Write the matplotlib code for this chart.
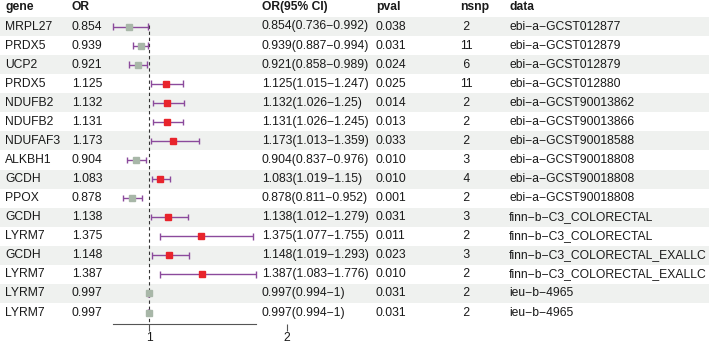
import matplotlib
matplotlib.use("Agg")
import matplotlib.pyplot as plt

genes = ["MRPL27", "PRDX5", "UCP2", "PRDX5", "NDUFB2", "NDUFB2", "NDUFAF3", "ALKBH1",
         "GCDH", "PPOX", "GCDH", "LYRM7", "GCDH", "LYRM7", "LYRM7", "LYRM7"]
or_vals = [0.854, 0.939, 0.921, 1.125, 1.132, 1.131, 1.173, 0.904,
           1.083, 0.878, 1.138, 1.375, 1.148, 1.387, 0.997, 0.997]
lower = [0.736, 0.887, 0.858, 1.015, 1.026, 1.026, 1.013, 0.837,
         1.019, 0.811, 1.012, 1.077, 1.019, 1.083, 0.994, 0.994]
upper = [0.992, 0.994, 0.989, 1.247, 1.25, 1.245, 1.359, 0.976,
         1.15, 0.952, 1.279, 1.755, 1.293, 1.776, 1, 1]
ci_text = ["0.854(0.736-0.992)", "0.939(0.887-0.994)", "0.921(0.858-0.989)",
           "1.125(1.015-1.247)", "1.132(1.026-1.25)", "1.131(1.026-1.245)",
           "1.173(1.013-1.359)", "0.904(0.837-0.976)", "1.083(1.019-1.15)",
           "0.878(0.811-0.952)", "1.138(1.012-1.279)", "1.375(1.077-1.755)",
           "1.148(1.019-1.293)", "1.387(1.083-1.776)", "0.997(0.994-1)", "0.997(0.994-1)"]
pvals = ["0.038", "0.031", "0.024", "0.025", "0.014", "0.013", "0.033", "0.010",
         "0.010", "0.001", "0.031", "0.011", "0.023", "0.010", "0.031", "0.031"]
nsnp = [2, 11, 6, 11, 2, 2, 2, 3, 4, 2, 3, 2, 3, 2, 2, 2]
data_src = ["ebi-a-GCST012877", "ebi-a-GCST012879", "ebi-a-GCST012879", "ebi-a-GCST012880",
            "ebi-a-GCST90013862", "ebi-a-GCST90013866", "ebi-a-GCST90018588", "ebi-a-GCST90018808",
            "ebi-a-GCST90018808", "ebi-a-GCST90018808", "finn-b-C3_COLORECTAL", "finn-b-C3_COLORECTAL",
            "finn-b-C3_COLORECTAL_EXALLC", "finn-b-C3_COLORECTAL_EXALLC", "ieu-b-4965", "ieu-b-4965"]
headers = ["gene", "OR", "OR(95% CI)", "pval", "nsnp", "data"]
xticks = [1, 2]

plt.rcParams['font.family'] = ['Liberation Sans', 'DejaVu Sans']
W, H = 709, 345
fig = plt.figure(figsize=(W / 100, H / 100), dpi=100)

n = len(genes)
y0, dy = 26.5, 19.07
top_row = -y0 / dy
bot_row = (H - y0) / dy

ax0 = fig.add_axes([0, 0, 1, 1])
ax0.set_xlim(0, W)
ax0.set_ylim(bot_row, top_row)
ax0.axis("off")

shade = "#EFF1EF"
for i in range(n):
    if i % 2 == 0:
        ax0.axhspan(i - 0.5, i + 0.5, color=shade, lw=0, zorder=0)

txt_col = "#1a1a1a"
fs = 8.7
col_x = [5, 72, 262, 376, 460, 509]
for hx, h in zip(col_x, headers):
    ax0.text(hx, -1, h, fontsize=fs, fontweight="bold", va="center", ha="left", color=txt_col)
for i in range(n):
    vals = [genes[i], f"{or_vals[i]:.3f}", ci_text[i].replace("-", "\u2212"), pvals[i],
            f"{nsnp[i]:>2d}" if nsnp[i] < 10 else str(nsnp[i]),
            data_src[i].replace("-", "\u2212")]
    for cx, v in zip(col_x, vals):
        ax0.text(cx, i, v, fontsize=fs, va="center", ha="left", color=txt_col)

# forest axes
px_left, px_right = 100, 300
px1, px_per_unit = 149, 138
axis_px = 324
axf = fig.add_axes([px_left / W, (H - axis_px) / H, (px_right - px_left) / W, axis_px / H])
axf.set_xlim(1 - (px1 - px_left) / px_per_unit, 1 + (px_right - px1) / px_per_unit)
axis_row = (axis_px - y0) / dy
axf.set_ylim(axis_row, top_row)
axf.patch.set_alpha(0)
for s in axf.spines.values():
    s.set_visible(False)
axf.set_yticks([])
axf.set_xticks(xticks)
axf.set_xticklabels([str(t) for t in xticks], fontsize=fs, color=txt_col)
axf.tick_params(axis="x", length=5, width=0.8, color="#555555", pad=1)

axf.plot([min(lower), max(upper)], [axis_row, axis_row], color="#555555", lw=0.8, clip_on=False)
axf.vlines(1, -0.1, axis_row, colors="#333333", linestyles=(0, (3, 2.5)), lw=0.8)

line_col = "#8B4A9C"
for i in range(n):
    axf.hlines(i, lower[i], upper[i], colors=line_col, lw=1.0, zorder=2)
    axf.vlines([lower[i], upper[i]], i - 0.17, i + 0.17, colors=line_col, lw=1.0, zorder=2)
    c = "#E8242C" if or_vals[i] > 1 else "#A8B7A8"
    axf.plot(or_vals[i], i, marker="s", ms=4.6, color=c, mec=c, zorder=3)

fig.savefig("out.png", dpi=100)
